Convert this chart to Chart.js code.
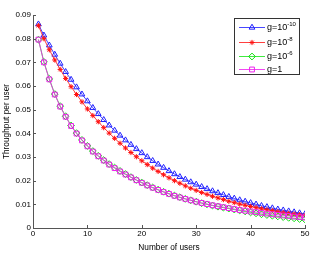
<!DOCTYPE html>
<html>
<head>
<meta charset="utf-8">
<script src="https://cdn.jsdelivr.net/npm/chart.js@4"></script>
<style>
  body { margin: 0; background: #fff; }
  canvas { display: block; }
</style>
</head>
<body>
<canvas id="throughputChart" width="314" height="253"></canvas>
<script>
// Number of users (x axis)
const users = [1, 2, 3, 4, 5, 6, 7, 8, 9, 10, 11, 12, 13, 14, 15, 16, 17, 18, 19, 20,
  21, 22, 23, 24, 25, 26, 27, 28, 29, 30, 31, 32, 33, 34, 35, 36, 37, 38, 39, 40,
  41, 42, 43, 44, 45, 46, 47, 48, 49, 50];

// Throughput per user
const gMinus10 = [0.0861, 0.0814, 0.0772, 0.0733, 0.0695, 0.0660, 0.0627, 0.0595, 0.0565, 0.0536,
  0.0508, 0.0482, 0.0457, 0.0434, 0.0412, 0.0391, 0.0371, 0.0352, 0.0334, 0.0317,
  0.0300, 0.0284, 0.0269, 0.0255, 0.0241, 0.0228, 0.0216, 0.0205, 0.0194, 0.0184,
  0.0174, 0.0165, 0.0156, 0.0148, 0.0140, 0.0132, 0.0125, 0.0118, 0.0112, 0.0106,
  0.0100, 0.0094, 0.0089, 0.0084, 0.0079, 0.0075, 0.0071, 0.0067, 0.0063, 0.0059];
const gMinus8 = [0.0855, 0.0800, 0.0753, 0.0710, 0.0670, 0.0632, 0.0597, 0.0564, 0.0533, 0.0503,
  0.0475, 0.0449, 0.0424, 0.0401, 0.0379, 0.0358, 0.0338, 0.0319, 0.0301, 0.0284,
  0.0268, 0.0253, 0.0239, 0.0225, 0.0212, 0.0200, 0.0189, 0.0178, 0.0168, 0.0159,
  0.0150, 0.0142, 0.0134, 0.0127, 0.0120, 0.0113, 0.0107, 0.0101, 0.0096, 0.0091,
  0.0086, 0.0081, 0.0077, 0.0073, 0.0069, 0.0065, 0.0062, 0.0059, 0.0056, 0.0053];
const gMinus6 = [0.0796, 0.0702, 0.0630, 0.0566, 0.0515, 0.0472, 0.0433, 0.0401, 0.0372, 0.0347,
  0.0325, 0.0305, 0.0287, 0.0270, 0.0255, 0.0241, 0.0228, 0.0215, 0.0203, 0.0192,
  0.0181, 0.0171, 0.0162, 0.0153, 0.0145, 0.0137, 0.0130, 0.0123, 0.0117, 0.0111,
  0.0105, 0.0100, 0.0095, 0.0090, 0.0086, 0.0082, 0.0078, 0.0074, 0.0070, 0.0066,
  0.0062, 0.0058, 0.0055, 0.0052, 0.0049, 0.0046, 0.0043, 0.0041, 0.0038, 0.0036];
const gOne = [0.0796, 0.0700, 0.0628, 0.0564, 0.0513, 0.0470, 0.0431, 0.0399, 0.0370, 0.0345,
  0.0323, 0.0303, 0.0285, 0.0268, 0.0253, 0.0239, 0.0226, 0.0214, 0.0202, 0.0191,
  0.0180, 0.0170, 0.0161, 0.0152, 0.0144, 0.0136, 0.0129, 0.0123, 0.0117, 0.0111,
  0.0106, 0.0101, 0.0096, 0.0092, 0.0088, 0.0084, 0.0080, 0.0076, 0.0073, 0.0070,
  0.0067, 0.0064, 0.0061, 0.0058, 0.0056, 0.0053, 0.0051, 0.0048, 0.0046, 0.0044];

// Tick labels
const xTicks = [0, 10, 20, 30, 40, 50];
const yTicks = [0, 0.01, 0.02, 0.03, 0.04, 0.05, 0.06, 0.07, 0.08, 0.09];
const yTickLabels = ["0", "0.01", "0.02", "0.03", "0.04", "0.05", "0.06", "0.07", "0.08", "0.09"];

// Legend text: base + superscript exponent
const legendBase = ["g=10", "g=10", "g=10", "g=1"];
const legendExp = ["-10", "-8", "-6", ""];

const FONT = "'Liberation Sans', Arial, sans-serif";

function toPoints(values) {
  return users.map((n, i) => ({ x: n, y: values[i] }));
}

// Small marker shapes for the legend (same as the chart's point styles)
function drawMarker(ctx, style, x, y, r, color) {
  ctx.save();
  ctx.strokeStyle = color;
  ctx.lineWidth = 1;
  ctx.beginPath();
  if (style === "triangle") {
    ctx.moveTo(x, y - r);
    ctx.lineTo(x + r * 0.87, y + r * 0.5);
    ctx.lineTo(x - r * 0.87, y + r * 0.5);
    ctx.closePath();
  } else if (style === "star") {
    for (let a = 0; a < 4; a++) {
      const ang = a * Math.PI / 4;
      ctx.moveTo(x - Math.cos(ang) * r, y - Math.sin(ang) * r);
      ctx.lineTo(x + Math.cos(ang) * r, y + Math.sin(ang) * r);
    }
  } else if (style === "rectRot") {
    ctx.moveTo(x, y - r);
    ctx.lineTo(x + r, y);
    ctx.lineTo(x, y + r);
    ctx.lineTo(x - r, y);
    ctx.closePath();
  } else {
    const h = r * 0.71;
    ctx.rect(x - h, y - h, h * 2, h * 2);
  }
  ctx.stroke();
  ctx.restore();
}

// MATLAB-like inward ticks + boxed legend
const matlabDecor = {
  id: "matlabDecor",
  afterDraw(chart) {
    const ctx = chart.ctx;
    const xs = chart.scales.x;
    const ys = chart.scales.y;
    const area = chart.chartArea;

    ctx.save();
    ctx.strokeStyle = "#555";
    ctx.lineWidth = 1;
    ctx.beginPath();
    xTicks.forEach((t) => {
      const px = Math.round(xs.getPixelForValue(t)) + 0.5;
      ctx.moveTo(px, area.bottom);
      ctx.lineTo(px, area.bottom - 3);
    });
    yTicks.forEach((t) => {
      const py = Math.round(ys.getPixelForValue(t)) + 0.5;
      ctx.moveTo(area.left, py);
      ctx.lineTo(area.left + 3, py);
    });
    ctx.stroke();

    // legend box
    const bx = 234, by = 18, bw = 65, bh = 56;
    ctx.fillStyle = "#fff";
    ctx.fillRect(bx, by, bw, bh);
    ctx.strokeStyle = "#333";
    ctx.strokeRect(bx + 0.5, by + 0.5, bw, bh);

    const rows = [27, 41.5, 55.5, 69];
    chart.data.datasets.forEach((ds, i) => {
      const y = rows[i];
      ctx.strokeStyle = ds.borderColor;
      ctx.lineWidth = 1;
      ctx.beginPath();
      ctx.moveTo(239, Math.round(y) + 0.5);
      ctx.lineTo(265, Math.round(y) + 0.5);
      ctx.stroke();
      drawMarker(ctx, ds.pointStyle, 252, Math.round(y) + 0.5, ds.pointRadius, ds.pointBorderColor);

      ctx.fillStyle = "#000";
      ctx.textBaseline = "middle";
      ctx.textAlign = "left";
      ctx.font = "9px " + FONT;
      ctx.fillText(legendBase[i], 267, y + 1);
      if (legendExp[i]) {
        const w = ctx.measureText(legendBase[i]).width;
        ctx.font = "6px " + FONT;
        ctx.fillText(legendExp[i], 267 + w, y - 2.5);
      }
    });
    ctx.restore();
  }
};

const ctx = document.getElementById("throughputChart").getContext("2d");
const throughputChart = new Chart(ctx, {
  type: "line",
  data: {
    datasets: [
      {
        label: "g=10^-10",
        data: toPoints(gMinus10),
        borderColor: "rgba(40, 40, 255, 0.85)",
        pointBorderColor: "#2020ff",
        pointStyle: "triangle",
        pointRadius: 3.3,
        order: 3,
      },
      {
        label: "g=10^-8",
        data: toPoints(gMinus8),
        borderColor: "rgba(255, 30, 30, 0.85)",
        pointBorderColor: "#ff1010",
        pointStyle: "star",
        pointRadius: 2.6,
        order: 2,
      },
      {
        label: "g=10^-6",
        data: toPoints(gMinus6),
        borderColor: "rgba(30, 230, 30, 0.85)",
        pointBorderColor: "#10e010",
        pointStyle: "rectRot",
        pointRadius: 3.4,
        order: 1,
      },
      {
        label: "g=1",
        data: toPoints(gOne),
        borderColor: "rgba(240, 40, 240, 0.85)",
        pointBorderColor: "#ee22ee",
        pointStyle: "rect",
        pointRadius: 3.4,
        order: 0,
      },
    ],
  },
  options: {
    responsive: false,
    animation: false,
    layout: { padding: { top: 15, right: 9, left: 2, bottom: 0 } },
    elements: {
      line: { borderWidth: 1, tension: 0, fill: false },
      point: { borderWidth: 1, backgroundColor: "rgba(0,0,0,0)" },
    },
    plugins: {
      legend: { display: false },
      tooltip: { enabled: false },
    },
    scales: {
      x: {
        type: "linear",
        min: 0,
        max: 50,
        afterFit: (scale) => { scale.height = 25; },
        afterBuildTicks: (scale) => { scale.ticks = xTicks.map((v) => ({ value: v })); },
        grid: { display: false, drawTicks: false },
        border: { display: true, color: "#555", width: 1 },
        ticks: {
          padding: 1,
          color: "#000",
          font: { family: FONT, size: 8 },
          maxRotation: 0,
        },
        title: {
          display: true,
          text: "Number of users",
          color: "#000",
          font: { family: FONT, size: 8.3 },
          padding: { top: 0, bottom: 0 },
        },
      },
      y: {
        type: "linear",
        min: 0,
        max: 0.09,
        afterFit: (scale) => { scale.width = 31; },
        afterBuildTicks: (scale) => { scale.ticks = yTicks.map((v) => ({ value: v })); },
        grid: { display: false, drawTicks: false },
        border: { display: true, color: "#555", width: 1 },
        ticks: {
          padding: 2,
          color: "#000",
          font: { family: FONT, size: 8 },
          callback: (value) => yTickLabels[yTicks.indexOf(value)] ?? "",
        },
        title: {
          display: true,
          text: "Throughput per user",
          color: "#000",
          font: { family: FONT, size: 8.3 },
          padding: { top: 0, bottom: 0 },
        },
      },
    },
  },
  plugins: [matlabDecor],
});
</script>
</body>
</html>
